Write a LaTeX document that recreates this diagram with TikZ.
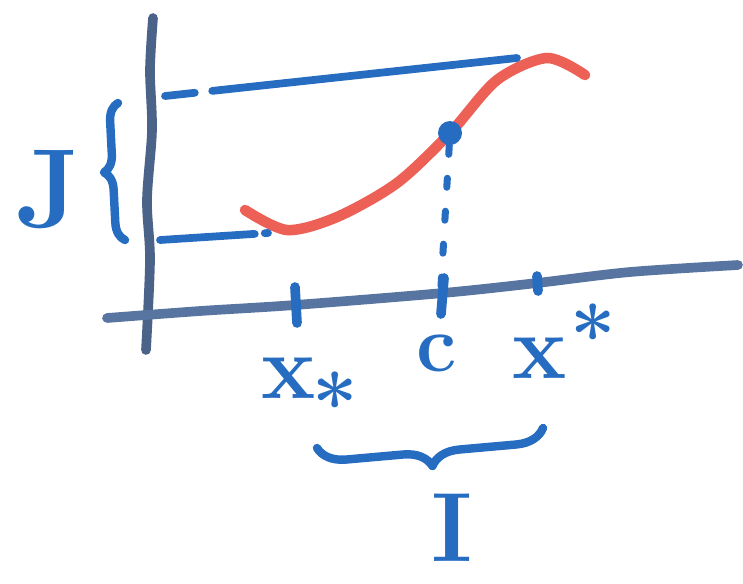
\documentclass[tikz,border=0pt]{standalone}
\usepackage{fontspec}
\usepackage{xcolor}
\usepackage{tikz}
\usetikzlibrary{decorations.pathreplacing, calc}

\definecolor{pen}{RGB}{38,108,192}
\definecolor{axisgray}{RGB}{88,116,160}
\definecolor{redpen}{RGB}{236,96,86}

\begin{document}
\begin{tikzpicture}[
  x=0.02cm, y=-0.02cm,
  axis/.style={line width=5.5pt, axisgray, line cap=round},
  ink/.style={line width=4.8pt, pen, line cap=round, line join=round},
  guide/.style={ink, line width=4.4pt},
  axtick/.style={ink, line width=5.5pt},
  lbl/.style={text=pen, inner sep=0pt, font=\bfseries\fontsize{52}{56}\selectfont},
  star/.style={text=pen, inner sep=0pt, anchor=north, font=\bfseries\fontsize{46}{50}\selectfont},
  bracket/.style={ink, decorate, decoration={brace, amplitude=#1}}
]
\useasboundingbox (0,0) rectangle (743,583);

% axes
\draw[axis, axisgray!85!black] plot[smooth] coordinates
  {(153,18) (150,70) (152,130) (147,200) (150,260) (146,350)};
\draw[axis] plot[smooth] coordinates
  {(107,318) (200,311) (295,305) (443,293) (537,283) (630,272) (738,265)};

% the function
\draw[redpen, line width=6pt, line cap=round] plot[smooth] coordinates
  {(245,210) (287,230) (337,217) (397,183) (450,133) (497,80) (547,58) (585,75)};

% named points
\node[circle, fill=pen, inner sep=0pt, minimum size=0.48cm] (cpt) at (450,133) {};
\coordinate (ctick) at (441,314);
\coordinate (jtop) at (165,96);
\coordinate (fmax) at (517,58);
\coordinate (jbot) at (160,240);
\coordinate (fmin) at (268,233);

% guide lines
\draw[guide, dash pattern=on 0.6cm off 0.35cm on 7cm] (jtop) -- (fmax);
\draw[guide, dash pattern=on 1.9cm off 0.2cm on 0.1cm off 0.25cm] (jbot) -- (fmin);
\draw[ink, line width=4pt, dash pattern=on 0.18cm off 0.48cm] (cpt) -- ($(ctick)+(0,-28)$);

% ticks on the x axis
\draw[axtick] (295,287) -- (297,323);
\draw[axtick] (444,278) -- (ctick);
\draw[axtick] (537,276) -- (538,291);

% braces
\draw[bracket=10pt] (125,240) -- (118,103);
\draw[bracket=16pt] (543,428) -- (317,448);

% labels
\node[lbl, font=\bfseries\fontsize{64}{68}\selectfont] (jlab) at (48,190) {J};
\node[lbl] (xlow) at (289,378) {x};
\node[star] (xlowstar) at (335,372) {*};
\node[lbl, font=\bfseries\fontsize{46}{50}\selectfont] (clab) at (437,353) {c};
\node[lbl] (xup) at (540,358) {x};
\node[star] (xupstar) at (593,304) {*};
\node[lbl, font=\bfseries\fontsize{56}{60}\selectfont] (ilab) at (452,528) {I};

\end{tikzpicture}
\end{document}
